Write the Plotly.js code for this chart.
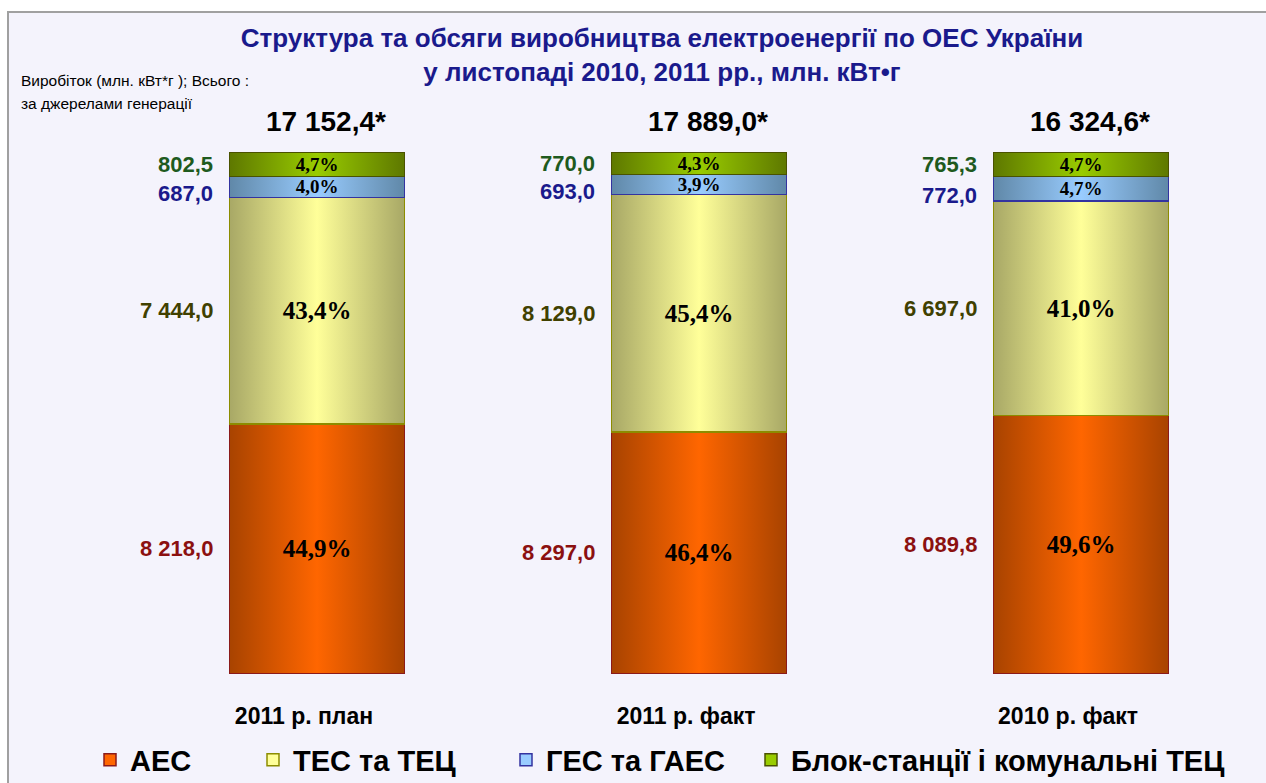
<!DOCTYPE html>
<html>
<head>
<meta charset="utf-8">
<script src="https://cdn.plot.ly/plotly-3.0.1.min.js"></script>
<style>
html,body{margin:0;padding:0;background:#ffffff;}
#chart{width:1266px;height:783px;}
</style>
</head>
<body>
<div id="chart"></div>
<script>
// ---- data ----
const categories = ['2011 р. план', '2011 р. факт', '2010 р. факт'];
const seriesNames = ['АЕС', 'ТЕС та ТЕЦ', 'ГЕС та ГАЕС', 'Блок-станції і комунальні ТЕЦ'];
const aesValues = [8218.0, 8297.0, 8089.8];
const tesValues = [7444.0, 8129.0, 6697.0];
const gesValues = [687.0, 693.0, 772.0];
const blockValues = [802.5, 770.0, 765.3];
const aesPct = [44.9, 46.4, 49.6];
const tesPct = [43.4, 45.4, 41.0];
const gesPct = [4.0, 3.9, 4.7];
const blockPct = [4.7, 4.3, 4.7];
const totals = [17152.4, 17889.0, 16324.6];

// ---- styles ----
const fillMid = ['#FF6600', '#FFFF99', '#99CCFF', '#99CC00'];
const fillEdge = ['#A84300', '#A8A866', '#6088A8', '#5E7800'];
const lineCols = ['#8B1A1A', '#8C8C00', '#3333A0', '#4A5200'];
const labelCols = ['#8B1010', '#404000', '#1A1A8C', '#1E5A1E'];
const barWidth = 0.458;

function fmtNum(v) {
  const s = v.toFixed(1).split('.');
  const intPart = s[0].replace(/\B(?=(\d{3})+(?!\d))/g, ' ');
  return intPart + ',' + s[1];
}
function fmtPct(v) { return v.toFixed(1).replace('.', ',') + '%'; }

const valueSets = [aesValues, tesValues, gesValues, blockValues];
const pctSets = [aesPct, tesPct, gesPct, blockPct];
const pctSizes = [25, 25, 19, 19];
const legendIds = ['legend', 'legend2', 'legend3', 'legend4'];

const traces = valueSets.map((vals, i) => ({
  type: 'bar',
  name: seriesNames[i],
  x: categories,
  y: vals,
  width: barWidth,
  text: pctSets[i].map(fmtPct),
  textposition: 'inside',
  insidetextanchor: 'middle',
  textangle: 0,
  constraintext: 'none',
  textfont: {family: 'Liberation Serif, Times New Roman, serif', size: pctSizes[i], color: '#000000', weight: 'bold'},
  marker: {color: fillMid[i], line: {color: lineCols[i], width: 1.5}},
  legend: legendIds[i],
  hoverinfo: 'skip'
}));

// ---- annotations built from data ----
const annotations = [];
categories.forEach((c, j) => {
  const sum = valueSets.reduce((a, s) => a + s[j], 0);
  let cum = 0;
  valueSets.forEach((s, i) => {
    const share = s[j] / sum * 100;
    const mid = cum + share / 2;
    cum += share;
    annotations.push({
      x: j - barWidth / 2, y: mid, xref: 'x', yref: 'y',
      text: fmtNum(s[j]), showarrow: false,
      xanchor: 'right', yanchor: 'middle', xshift: -15,
      yshift: i === 2 ? -7 : 0,
      font: {family: 'Liberation Sans, Arial, sans-serif', size: 22, color: labelCols[i], weight: 'bold'}
    });
  });
  annotations.push({
    x: j, y: 100, xref: 'x', yref: 'y',
    text: fmtNum(totals[j]) + '*', showarrow: false,
    xanchor: 'center', yanchor: 'bottom', yshift: 13, xshift: 9,
    font: {family: 'Liberation Sans, Arial, sans-serif', size: 28, color: '#000000', weight: 'bold'}
  });
});
annotations.push({
  xref: 'paper', yref: 'paper', x: (19 - 126) / 1140, y: (674 - 81) / 522,
  xanchor: 'left', yanchor: 'middle', showarrow: false,
  text: 'Виробіток (млн. кВт*г ); Всього :',
  font: {family: 'Liberation Sans, Arial, sans-serif', size: 15.5, color: '#000000'}
});
annotations.push({
  xref: 'paper', yref: 'paper', x: (19 - 126) / 1140, y: (674 - 103) / 522,
  xanchor: 'left', yanchor: 'middle', showarrow: false,
  text: 'за джерелами генерації',
  font: {family: 'Liberation Sans, Arial, sans-serif', size: 15.5, color: '#000000'}
});

const legendFont = {family: 'Liberation Sans, Arial, sans-serif', size: 29, color: '#000000', weight: 'bold'};
const legendTextX = [130, 293, 546, 791];
const legendCommon = (px) => ({
  xref: 'container', yref: 'container', x: (px - 40) / 1266, y: 1 - 760 / 783,
  xanchor: 'left', yanchor: 'middle', orientation: 'h',
  bgcolor: 'rgba(0,0,0,0)', borderwidth: 0, font: legendFont, itemwidth: 30
});

const layout = {
  width: 1266, height: 783,
  margin: {l: 126, r: 0, t: 152, b: 109},
  paper_bgcolor: '#ffffff',
  plot_bgcolor: 'rgba(0,0,0,0)',
  barmode: 'stack',
  barnorm: 'percent',
  showlegend: true,
  title: {
    text: 'Структура та обсяги виробництва електроенергії по ОЕС України<br>у листопаді 2010, 2011 рр., млн. кВт•г',
    xref: 'container', yref: 'container', x: 662 / 1266, y: 1 - 47 / 783,
    xanchor: 'center', yanchor: 'top',
    font: {family: 'Liberation Sans, Arial, sans-serif', size: 26, color: '#1A1A8C', weight: 'bold'}
  },
  xaxis: {
    type: 'category', range: [-0.5, 2.484],
    showgrid: false, zeroline: false, showline: false, ticks: '',
    ticklabelstandoff: 26, ticklabelshift: -13,
    tickfont: {family: 'Liberation Sans, Arial, sans-serif', size: 23, color: '#000000', weight: 'bold'},
    fixedrange: true
  },
  yaxis: {range: [0, 100], visible: false, showgrid: false, zeroline: false, fixedrange: true},
  legend: legendCommon(legendTextX[0]),
  legend2: legendCommon(legendTextX[1]),
  legend3: legendCommon(legendTextX[2]),
  legend4: legendCommon(legendTextX[3]),
  annotations: annotations,
  shapes: [{
    type: 'rect', xref: 'paper', yref: 'paper', layer: 'below',
    x0: (8 - 126) / 1140, x1: (1290 - 126) / 1140,
    y0: (674 - 800) / 522, y1: (674 - 12) / 522,
    fillcolor: '#F4F3FC', line: {color: '#A0A0A0', width: 2}
  }]
};

const gd = document.getElementById('chart');
Plotly.newPlot(gd, traces, layout, {displayModeBar: false, staticPlot: true}).then(() => {
  const svgNS = 'http://www.w3.org/2000/svg';
  const defs = gd.querySelector('svg.main-svg defs');
  fillMid.forEach((mid, i) => {
    const g = document.createElementNS(svgNS, 'linearGradient');
    g.setAttribute('id', 'barGrad' + i);
    g.setAttribute('x1', '0'); g.setAttribute('x2', '1');
    g.setAttribute('y1', '0'); g.setAttribute('y2', '0');
    [[0, fillEdge[i]], [0.5, mid], [1, fillEdge[i]]].forEach(([o, c]) => {
      const st = document.createElementNS(svgNS, 'stop');
      st.setAttribute('offset', o);
      st.setAttribute('stop-color', c);
      g.appendChild(st);
    });
    defs.appendChild(g);
  });
  gd.querySelectorAll('.barlayer .trace').forEach((t, i) => {
    t.querySelectorAll('.point path').forEach(p => { p.style.fill = 'url(#barGrad' + i + ')'; });
  });
});
</script>
</body>
</html>
